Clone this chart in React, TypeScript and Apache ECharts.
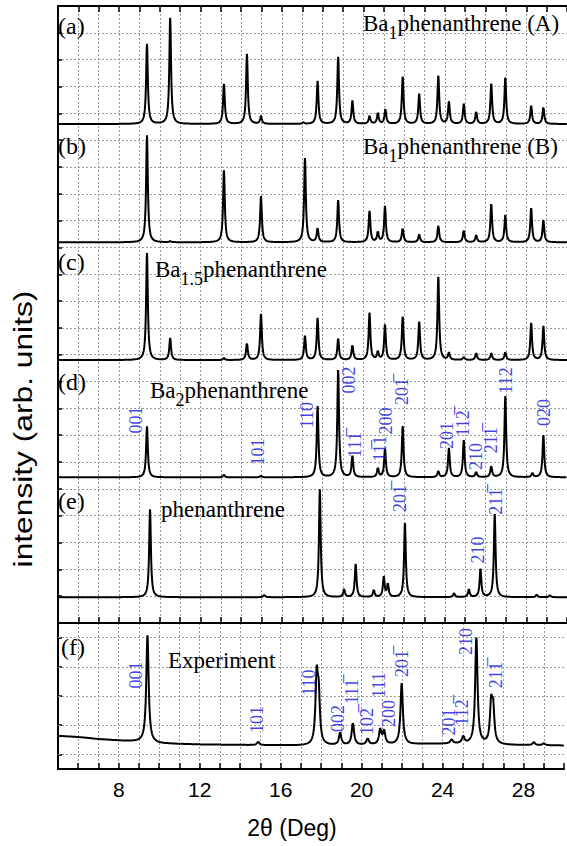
import React, { useEffect, useRef } from "react";
import * as echarts from "echarts";

// ---- axis ----
const X_MIN = 5;
const X_MAX = 30;
const xTickLabels = [8, 12, 16, 20, 24, 28];

// ---- stacked simulated patterns: peak 2θ (deg) and peak heights (relative) ----
const posA = [9.37, 10.51, 13.15, 14.28, 14.97, 17.05, 17.75, 18.76, 19.46, 20.3, 20.71, 21.08, 21.93, 22.74, 23.68, 24.2, 24.93, 25.54, 26.28, 26.97, 28.24, 28.84];
const hA = [80, 106, 40, 70, 8, 1.5, 43, 67, 23, 8, 11, 15, 47, 30, 48, 22, 20, 12, 40, 46, 18, 17];

const posB = [9.37, 10.51, 13.15, 14.97, 17.13, 17.75, 18.76, 20.3, 20.71, 21.06, 21.93, 22.74, 23.68, 24.93, 25.54, 26.28, 26.97, 28.24, 28.84];
const hB = [107, 1, 72, 46, 84, 14, 42, 31, 10, 36, 14, 8, 17, 12, 7, 38, 27, 34, 22];

const posC = [9.37, 10.51, 13.15, 14.28, 14.97, 17.13, 17.75, 18.76, 19.46, 20.3, 20.71, 21.06, 21.93, 22.74, 23.68, 24.2, 24.93, 25.54, 26.28, 26.97, 28.24, 28.84];
const hC = [107, 22, 2, 17, 46, 24, 42, 21, 15, 47, 8, 35, 43, 38, 83, 7, 3, 7, 7, 8, 37, 34];

const posD = [9.37, 13.15, 14.97, 17.75, 18.76, 19.46, 20.71, 21.06, 21.93, 23.68, 24.2, 24.93, 25.54, 26.28, 26.97, 28.3, 28.84];
const hD = [51, 2.5, 1.5, 71, 107, 21, 9, 28, 51, 6, 29, 37, 5, 11, 81, 4, 42];

const posE = [9.52, 15.13, 17.86, 19.05, 19.62, 20.51, 21.0, 21.2, 22.04, 24.45, 25.18, 25.75, 26.45, 28.51, 29.16];
const hE = [88, 2.3, 108, 8, 33, 7, 20, 13, 74, 4, 8, 28, 83, 2.5, 2];

// baseline level of each stacked pattern (in grid divisions of the stacked panel)
const stackBaselines = [18.6, 14.19, 9.8, 5.43, 0.96];

// ---- experiment ----
const posF = [9.42, 14.89, 17.78, 17.88, 18.94, 19.57, 20.3, 20.92, 21.11, 21.98, 24.45, 25.02, 25.67, 26.4, 26.5, 28.51, 29.0];
const hF = [107, 3.3, 65, 45, 12, 22, 6, 15, 13, 61, 4, 7, 106, 38, 33, 3, 2];
const bgFx = [5, 6, 7, 8, 9, 10, 12, 14.5, 17.5, 20, 23, 24.5, 27.5, 30];
const bgFy = [2.27, 2.19, 2.05, 1.95, 1.87, 1.75, 1.68, 1.64, 1.6, 1.64, 1.71, 1.73, 1.64, 1.61];

// ---- Miller index labels: [2θ, height, text] ----
const labelsD: [number, number, string][] = [
  [8.84, 7.57, "001"],
  [14.8, 6.37, "101"],
  [17.24, 7.75, "110"],
  [19.29, 9.06, "002"],
  [19.59, 6.64, "11" + "1\u0305"],
  [20.8, 6.5, "1" + "1\u0305" + "1"],
  [21.1, 7.53, "200"],
  [21.9, 8.63, "20" + "1\u0305"],
  [24.1, 6.99, "201"],
  [24.9, 7.44, "11" + "2\u0305"],
  [25.54, 6.21, "210"],
  [26.27, 6.82, "21" + "1\u0305"],
  [27.0, 9.04, "112"],
  [28.85, 7.85, "020"],
];
const labelsE: [number, number, string][] = [
  [21.8, 4.64, "20" + "1\u0305"],
  [25.61, 2.72, "210"],
  [26.49, 4.53, "21" + "1\u0305"],
];
const labelsF: [number, number, string][] = [
  [8.85, 6.44, "001"],
  [14.85, 3.39, "101"],
  [17.39, 5.92, "110"],
  [18.83, 3.46, "002"],
  [19.54, 5.31, "11" + "1\u0305"],
  [20.29, 3.25, "10" + "2\u0305"],
  [20.88, 5.75, "111"],
  [21.34, 3.8, "200"],
  [22.0, 7.23, "20" + "1\u0305"],
  [24.32, 3.22, "201"],
  [24.98, 3.87, "11" + "2\u0305"],
  [25.17, 8.73, "210"],
  [26.66, 6.44, "21" + "1\u0305"],
];

const TOP_UNIT = 617 / 23; // px per division in stacked panel
const F_UNIT = 14.6; // px per half-division in experiment panel

function bgAt(x: number) {
  for (let i = 0; i < bgFx.length - 1; i++) {
    if (x <= bgFx[i + 1]) {
      const t = (x - bgFx[i]) / (bgFx[i + 1] - bgFx[i]);
      return bgFy[i] + t * (bgFy[i + 1] - bgFy[i]);
    }
  }
  return bgFy[bgFy.length - 1];
}

function profile(pos: number[], h: number[], hw: number, unit: number, base: (x: number) => number) {
  const pts: number[][] = [];
  const n = 2500;
  for (let i = 0; i <= n; i++) {
    const x = Math.round((X_MIN + (i * (X_MAX - X_MIN)) / n) * 1000) / 1000;
    let y = 0;
    for (let k = 0; k < pos.length; k++) {
      const d = (x - pos[k]) / hw;
      y += h[k] / (1 + d * d);
    }
    pts.push([x, base(x) + y / unit]);
  }
  return pts;
}

const GRID_LINE = { color: "#9a9a9a", type: [2, 2] as any, width: 1 };
const SERIF = "Liberation Serif, Times New Roman, serif";
const SANS = "Liberation Sans, Arial, sans-serif";

export default function App() {
  const ref = useRef<HTMLDivElement>(null);
  useEffect(() => {
    if (!ref.current) return;
    const chart = echarts.init(ref.current, null, { renderer: "svg" });
    const stacks = [
      [posA, hA],
      [posB, hB],
      [posC, hC],
      [posD, hD],
      [posE, hE],
    ];
    const lineStyle = { color: "#000", width: 2 };
    const series: any[] = stacks.map(([p, h], i) => ({
      type: "line",
      xAxisIndex: 0,
      yAxisIndex: 0,
      data: profile(p as number[], h as number[], 0.05, TOP_UNIT, () => stackBaselines[i]),
      showSymbol: false,
      symbol: "none",
      silent: true,
      lineStyle,
      z: 3,
    }));
    series.push({
      type: "line",
      xAxisIndex: 2,
      yAxisIndex: 1,
      data: profile(posF, hF, 0.07, F_UNIT, bgAt),
      showSymbol: false,
      symbol: "none",
      silent: true,
      lineStyle,
      z: 3,
      markLine: {
        silent: true,
        symbol: ["none", "none"],
        label: { show: false },
        lineStyle: GRID_LINE,
        z: 1,
        data: [1, 3, 5, 7, 9].map((v) => ({ yAxis: v })),
      },
    });
    const labelSeries = (data: [number, number, string][], xi: number, yi: number) => ({
      type: "scatter",
      xAxisIndex: xi,
      yAxisIndex: yi,
      symbolSize: 0,
      silent: true,
      z: 5,
      data: data.map((d) => [d[0], d[1], d[2]]),
      label: {
        show: true,
        position: "inside",
        rotate: 90,
        formatter: (p: any) => p.data[2],
        color: "#1010d8",
        fontFamily: SERIF,
        fontSize: 18,
      },
    });
    series.push(labelSeries([...labelsD, ...labelsE], 0, 0));
    series.push(labelSeries(labelsF, 2, 1));

    const axisLine = { show: true, lineStyle: { color: "#000", width: 2 } };
    const tick = { show: true, inside: true, length: 6, lineStyle: { color: "#000", width: 1.5 } };

    const titleRich = (parts: [string, string][]) => parts.map(([k, t]) => `{${k}|${t}}`).join("");
    const rich = {
      m: { fontFamily: SERIF, fontSize: 23, lineHeight: 30, verticalAlign: "top", fill: "#000" },
      s: { fontFamily: SERIF, fontSize: 18, lineHeight: 8, verticalAlign: "bottom", fill: "#000" },
    };
    const nameText = (x: number, y: number, parts: [string, string][]) => ({
      type: "text",
      x,
      y,
      style: {
        text: titleRich(parts),
        rich,
        align: "left",
        verticalAlign: "middle",
        fill: "#000",
      },
      z: 10,
    });
    const letter = (x: number, y: number, t: string) => ({
      type: "text",
      x,
      y,
      style: {
        text: t,
        font: `24px ${SERIF}`,
        align: "left",
        verticalAlign: "middle",
        fill: "#000",
      },
      z: 10,
    });

    chart.setOption({
      animation: false,
      backgroundColor: "#fff",
      grid: [
        { left: 58, top: 6, width: 512.5, height: 617 },
        { left: 58, top: 623, width: 512.5, height: 146 },
      ],
      xAxis: [
        {
          type: "value",
          gridIndex: 0,
          position: "bottom",
          min: X_MIN,
          max: X_MAX,
          interval: 1,
          axisLine,
          axisTick: tick,
          axisLabel: { show: false },
          splitLine: { show: true, showMinLine: false, showMaxLine: false, lineStyle: GRID_LINE },
        },
        {
          type: "value",
          gridIndex: 0,
          position: "top",
          min: X_MIN,
          max: X_MAX,
          interval: 1,
          axisLine,
          axisTick: tick,
          axisLabel: { show: false },
          splitLine: { show: false },
        },
        {
          type: "value",
          gridIndex: 1,
          position: "bottom",
          min: X_MIN,
          max: X_MAX,
          interval: 1,
          axisLine,
          axisTick: tick,
          axisLabel: {
            show: true,
            margin: 10,
            fontFamily: SANS,
            fontSize: 21,
            color: "#000",
            formatter: (v: number) => (xTickLabels.includes(v) ? String(v) : ""),
          },
          splitLine: { show: true, showMinLine: false, showMaxLine: false, lineStyle: GRID_LINE },
        },
      ],
      yAxis: [
        {
          type: "value",
          gridIndex: 0,
          min: 0,
          max: 23,
          interval: 1,
          axisLine,
          axisTick: { ...tick, length: 4 },
          axisLabel: { show: false },
          splitLine: { show: true, showMinLine: false, showMaxLine: false, lineStyle: GRID_LINE },
        },
        {
          type: "value",
          gridIndex: 1,
          min: 0,
          max: 10,
          interval: 1,
          axisLine,
          axisTick: { ...tick, length: 4, customValues: [1, 3, 5, 7, 9] },
          axisLabel: { show: false },
          splitLine: { show: false },
        },
      ],
      series,
      graphic: [
        letter(58, 26, "(a)"),
        letter(58, 146, "(b)"),
        letter(58, 262, "(c)"),
        letter(58, 382, "(d)"),
        letter(58, 501, "(e)"),
        letter(61, 647, "(f)"),
        nameText(363, 27, [["m", "Ba"], ["s", "1"], ["m", "phenanthrene (A)"]]),
        nameText(363, 150, [["m", "Ba"], ["s", "1"], ["m", "phenanthrene (B)"]]),
        nameText(155, 273, [["m", "Ba"], ["s", "1.5"], ["m", "phenanthrene"]]),
        nameText(150, 394, [["m", "Ba"], ["s", "2"], ["m", "phenanthrene"]]),
        nameText(161, 513, [["m", "phenanthrene"]]),
        nameText(168, 664, [["m", "Experiment"]]),
        {
          type: "text",
          x: 23,
          y: 429,
          rotation: Math.PI / 2,
          scaleX: 1.22,
          style: {
            text: "intensity (arb. units)",
            font: `26px ${SANS}`,
            align: "center",
            verticalAlign: "middle",
            fill: "#000",
          },
        },
        {
          type: "text",
          x: 292,
          y: 828,
          style: {
            text: "2θ (Deg)",
            font: `23px ${SANS}`,
            align: "center",
            verticalAlign: "middle",
            fill: "#000",
          },
        },
      ],
    });
    return () => chart.dispose();
  }, []);
  return (
    <div
      ref={ref}
      style={{ position: "fixed", left: 0, top: 0, width: 567, height: 846, background: "#fff" }}
    />
  );
}
